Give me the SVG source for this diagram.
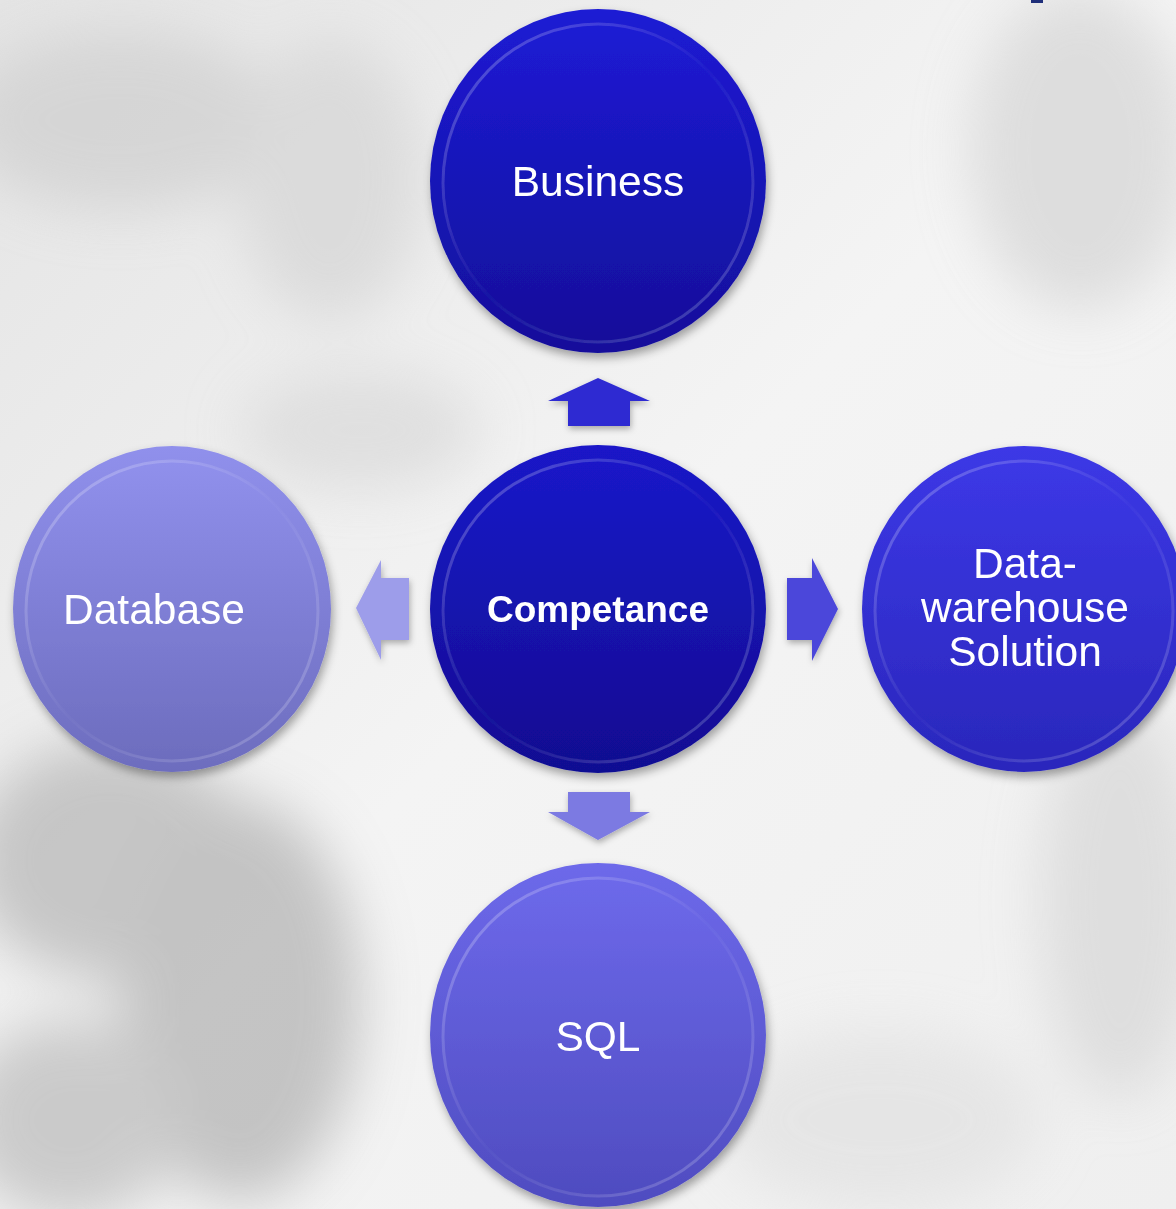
<svg xmlns="http://www.w3.org/2000/svg" width="1176" height="1209" viewBox="0 0 1176 1209">
<style>
.lbl{font-family:"Liberation Sans",Arial,sans-serif;fill:#ffffff;text-anchor:middle;font-size:42.5px}
.bold{font-weight:bold;font-size:37px}
</style>
<defs>
<filter id="blur" x="-20%" y="-20%" width="140%" height="140%"><feGaussianBlur stdDeviation="28"/></filter>
<filter id="shadow" x="-20%" y="-20%" width="140%" height="140%"><feDropShadow dx="2" dy="5" stdDeviation="5" flood-color="#000" flood-opacity="0.35"/></filter>
<filter id="ashadow" x="-30%" y="-30%" width="160%" height="160%"><feDropShadow dx="1" dy="3" stdDeviation="3" flood-color="#000" flood-opacity="0.3"/></filter>
<linearGradient id="bg" x1="0" y1="0" x2="1" y2="1"><stop offset="0" stop-color="#e4e4e4"/><stop offset="0.5" stop-color="#f4f4f4"/><stop offset="1" stop-color="#efefef"/></linearGradient>
<linearGradient id="gBus" x1="0" y1="0" x2="0" y2="1"><stop offset="0" stop-color="#1d1bd4"/><stop offset="1" stop-color="#120f9a"/></linearGradient>
<linearGradient id="gComp" x1="0" y1="0" x2="0" y2="1"><stop offset="0" stop-color="#1a18c8"/><stop offset="1" stop-color="#110d92"/></linearGradient>
<linearGradient id="gDw" x1="0" y1="0" x2="0" y2="1"><stop offset="0" stop-color="#3c38e6"/><stop offset="1" stop-color="#2a27bc"/></linearGradient>
<linearGradient id="gSql" x1="0" y1="0" x2="0" y2="1"><stop offset="0" stop-color="#6d69ea"/><stop offset="1" stop-color="#4f4cc0"/></linearGradient>
<linearGradient id="gDb" x1="0" y1="0" x2="0" y2="1"><stop offset="0" stop-color="#9090ec"/><stop offset="1" stop-color="#6d6dbe"/></linearGradient>
<linearGradient id="edge" x1="0" y1="0" x2="1" y2="1"><stop offset="0" stop-color="#ffffff" stop-opacity="0.3"/><stop offset="0.5" stop-color="#ffffff" stop-opacity="0.02"/><stop offset="1" stop-color="#ffffff" stop-opacity="0.25"/></linearGradient>
</defs>
<rect width="1176" height="1209" fill="url(#bg)"/>
<g filter="url(#blur)" opacity="0.75">
<ellipse cx="120" cy="120" rx="160" ry="90" fill="#d0d0d0"/>
<ellipse cx="330" cy="180" rx="90" ry="140" fill="#d6d6d6"/>
<ellipse cx="1080" cy="150" rx="110" ry="160" fill="#d6d6d6"/>
<ellipse cx="110" cy="860" rx="140" ry="120" fill="#b8b8b8"/>
<ellipse cx="240" cy="1000" rx="120" ry="200" fill="#b4b4b4"/>
<ellipse cx="70" cy="1120" rx="110" ry="100" fill="#bdbdbd"/>
<ellipse cx="1120" cy="900" rx="80" ry="200" fill="#d8d8d8"/>
<ellipse cx="880" cy="1120" rx="160" ry="90" fill="#e2e2e2"/>
<ellipse cx="360" cy="430" rx="120" ry="60" fill="#dadada"/>
</g>
<rect x="1031" y="0" width="12" height="3" fill="#1f2f7a"/>
<g id="connectors" filter="url(#ashadow)">
<polygon id="arrow-up" points="598,378 650,401 630,401 630,426 568,426 568,401 548,401" fill="#2d2bd2"/>
<polygon id="arrow-left" points="356,608 381,560 381,578 409,578 409,640 381,640 381,660" fill="#9d9dea"/>
<polygon id="arrow-right" points="838,609 812,558 812,578 787,578 787,640 812,640 812,661" fill="#4b47da"/>
<polygon id="arrow-down" points="598,840 650,812 630,812 630,792 568,792 568,812 548,812" fill="#7c7ae2"/>
</g>
<g id="node-business" filter="url(#shadow)">
<ellipse cx="598" cy="181" rx="168" ry="172" fill="url(#gBus)"/>
<ellipse cx="598" cy="183" rx="155" ry="159" fill="url(#gBus)" stroke="url(#edge)" stroke-width="3"/>
<text class="lbl" x="598" y="196">Business</text>
</g>
<g id="node-database" filter="url(#shadow)">
<ellipse cx="172" cy="609" rx="159" ry="163" fill="url(#gDb)"/>
<ellipse cx="172" cy="611" rx="146" ry="150" fill="url(#gDb)" stroke="url(#edge)" stroke-width="3"/>
<text class="lbl" x="154" y="624">Database</text>
</g>
<g id="node-competance" filter="url(#shadow)">
<ellipse cx="598" cy="609" rx="168" ry="164" fill="url(#gComp)"/>
<ellipse cx="598" cy="611" rx="155" ry="151" fill="url(#gComp)" stroke="url(#edge)" stroke-width="3"/>
<text class="lbl bold" x="598" y="622">Competance</text>
</g>
<g id="node-datawarehouse" filter="url(#shadow)">
<ellipse cx="1024" cy="609" rx="162" ry="163" fill="url(#gDw)"/>
<ellipse cx="1024" cy="611" rx="149" ry="150" fill="url(#gDw)" stroke="url(#edge)" stroke-width="3"/>
<text class="lbl" x="1025" y="578">Data-</text>
<text class="lbl" x="1025" y="622">warehouse</text>
<text class="lbl" x="1025" y="666">Solution</text>
</g>
<g id="node-sql" filter="url(#shadow)">
<ellipse cx="598" cy="1035" rx="168" ry="172" fill="url(#gSql)"/>
<ellipse cx="598" cy="1037" rx="155" ry="159" fill="url(#gSql)" stroke="url(#edge)" stroke-width="3"/>
<text class="lbl" x="598" y="1051">SQL</text>
</g>
</svg>
